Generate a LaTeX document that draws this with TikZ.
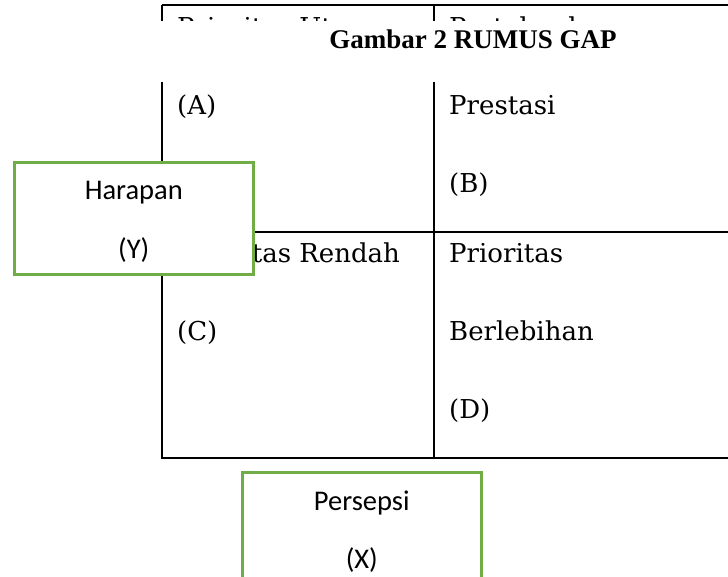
\documentclass[tikz,border=0pt]{standalone}
\usepackage{fontspec}
\setmainfont{DejaVu Serif}
\newfontfamily\titlefont{Liberation Serif}
\newfontfamily\boxfont{Carlito}
\usepackage{tikz}
\usetikzlibrary{positioning}
\definecolor{boxgreen}{HTML}{70AD47}

\begin{document}
\begin{tikzpicture}[x = 1pt, y = -1pt,
    grid/.style = { line width = 2.4pt },
    cell/.style = { anchor = base west, inner sep = 0pt, font = \fontsize{26}{31}\selectfont },
    greenbox/.style = { draw = boxgreen, line width = 2.6pt, fill = white, minimum width = 239pt, minimum height = 112pt, inner sep = 0pt },
    boxlabel/.style = { anchor = base, inner sep = 0pt, font = \boxfont\fontsize{28.5}{34}\selectfont }]
  \clip (0,0) rectangle (728,576);

  % table
  \draw[grid] (162,5) -- (740,5);
  \draw[grid] (162,5) -- (162,458) -- (740,458);
  \draw[grid] (434,5) -- (434,458);
  \draw[grid] (162,232) -- (740,232);

  \node[cell] (a1) at (177,36) { Prioritas Utama };
  \node[cell] (a2) at (177,114) { (A) };
  \node[cell] (b1) at (449,36) { Pertahankan };
  \node[cell] (b2) at (449,114) { Prestasi };
  \node[cell] (b3) at (449,192) { (B) };
  \node[cell] (c1) at (177,262) { Prioritas Rendah };
  \node[cell] (c2) at (177,340) { (C) };
  \node[cell] (d1) at (449,262) { Prioritas };
  \node[cell] (d2) at (449,340) { Berlebihan };
  \node[cell] (d3) at (449,418) { (D) };

  % caption over the first row
  \fill[white] (150,21) rectangle (740,82);
  \node[anchor = base, inner sep = 0pt, font = \titlefont\bfseries\fontsize{27}{32}\selectfont] (title) at (473,48) { Gambar 2 RUMUS GAP };

  % axes
  \node[greenbox, anchor = north west] (harapan) at (13,161) {};
  \node[boxlabel] (harapan-name) at ([yshift = -38pt] harapan.north) { Harapan };
  \node[boxlabel] (harapan-sym) at ([yshift = -97pt] harapan.north) { (Y) };

  \node[greenbox, anchor = north west] (persepsi) at (241,471) {};
  \node[boxlabel] (persepsi-name) at ([yshift = -39pt] persepsi.north) { Persepsi };
  \node[boxlabel] (persepsi-sym) at ([yshift = -97pt] persepsi.north) { (X) };
\end{tikzpicture}
\end{document}
